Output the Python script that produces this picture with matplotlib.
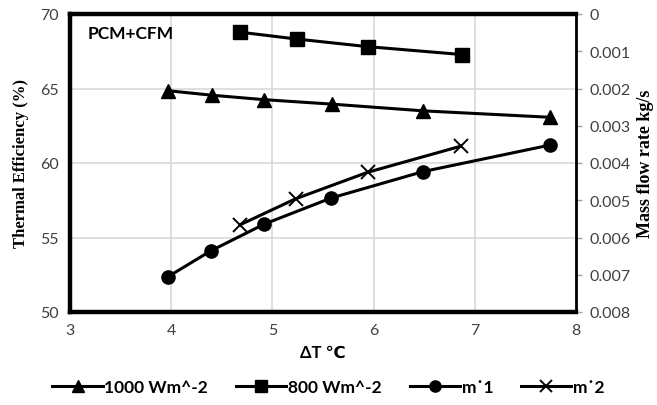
import matplotlib
matplotlib.use("Agg")
import matplotlib.pyplot as plt
import numpy as np

# --- data ---
dt_1000 = [3.97, 4.40, 4.92, 5.59, 6.49, 7.74]
eff_1000 = [64.85, 64.55, 64.25, 63.95, 63.50, 63.07]

dt_800 = [4.68, 5.24, 5.94, 6.87]
eff_800 = [68.78, 68.32, 67.81, 67.28]

dt_m1 = [3.97, 4.39, 4.92, 5.58, 6.49, 7.74]
mass_m1 = [0.00705, 0.00636, 0.00564, 0.00494, 0.00423, 0.00352]

dt_m2 = [4.68, 5.23, 5.94, 6.86]
mass_m2 = [0.00566, 0.00496, 0.00425, 0.00355]

x_ticks = [3, 4, 5, 6, 7, 8]
eff_ticks = [50, 55, 60, 65, 70]
mass_ticks = [0, 0.001, 0.002, 0.003, 0.004, 0.005, 0.006, 0.007, 0.008]
mass_labels = ["0", "0.001", "0.002", "0.003", "0.004", "0.005", "0.006", "0.007", "0.008"]

sans = ["Lato", "DejaVu Sans"]
serif = ["Liberation Serif", "DejaVu Serif"]
grid_col = "#d9d9d9"

fig = plt.figure(figsize=(6.57, 4.06), dpi=100)
ax = fig.add_axes((70 / 657, 1 - 313 / 406, 506 / 657, 298 / 406))
ax2 = ax.twinx()

# grid
ax.set_axisbelow(True)
ax.grid(True, color=grid_col, linewidth=1.2)

l1, = ax.plot(dt_1000, eff_1000, color="black", lw=2.2, marker="^", ms=10,
              label="1000 Wm^-2")
l2, = ax.plot(dt_800, eff_800, color="black", lw=2.2, marker="s", ms=10.5,
              label="800 Wm^-2")
l3, = ax2.plot(dt_m1, mass_m1, color="black", lw=2.2, marker="o", ms=9.5,
               label="m\u02d91")
l4, = ax2.plot(dt_m2, mass_m2, color="black", lw=2.2, marker="x", ms=9.5, mew=1.4,
               label="m\u02d92")

ax.set_xlim(3, 8)
ax.set_ylim(50, 70)
ax.set_xticks(x_ticks)
ax.set_yticks(eff_ticks)
ax2.set_ylim(0.008, 0)
ax2.set_yticks(mass_ticks)
ax2.set_yticklabels(mass_labels)

ax.tick_params(axis="both", length=0, labelsize=11.5, labelcolor="#404040", pad=8)
for lab in ax.get_xticklabels() + ax.get_yticklabels():
    lab.set_family(sans)
ax2.tick_params(axis="y", length=4, width=1, color="#a0a0a0", labelsize=11.5,
                labelcolor="#404040", pad=6)
for lab in ax2.get_yticklabels():
    lab.set_family(sans)

for s in ["left", "top", "bottom"]:
    ax.spines[s].set_linewidth(3.2)
    ax.spines[s].set_color("black")
ax.spines["right"].set_visible(False)
for s in ["left", "top", "bottom"]:
    ax2.spines[s].set_visible(False)
ax2.spines["right"].set_linewidth(2)
ax2.spines["right"].set_color("black")

ax.set_xlabel("\u0394T \u2103", family=sans, fontsize=12, fontweight="bold", labelpad=5)
ax.set_ylabel("Thermal Efficiency (%)", family=serif, fontsize=12, fontweight="bold",
              labelpad=8)
ax2.set_ylabel("Mass flow rate kg/s", family=serif, fontsize=13, fontweight="bold",
               labelpad=4)

ax.text(0.035, 0.935, "PCM+CFM", transform=ax.transAxes, family=sans, fontsize=12.5,
        fontweight="bold", va="center", ha="left")

leg = fig.legend(handles=[l1, l2, l3, l4], loc="lower center", bbox_to_anchor=(0.5, -0.015),
                 ncol=4, frameon=False, handlelength=2.9, columnspacing=1.6,
                 handletextpad=0.1, markerscale=0.85,
                 prop={"family": sans, "size": 12.5, "weight": "bold"})

fig.savefig("out.png", dpi=100)
